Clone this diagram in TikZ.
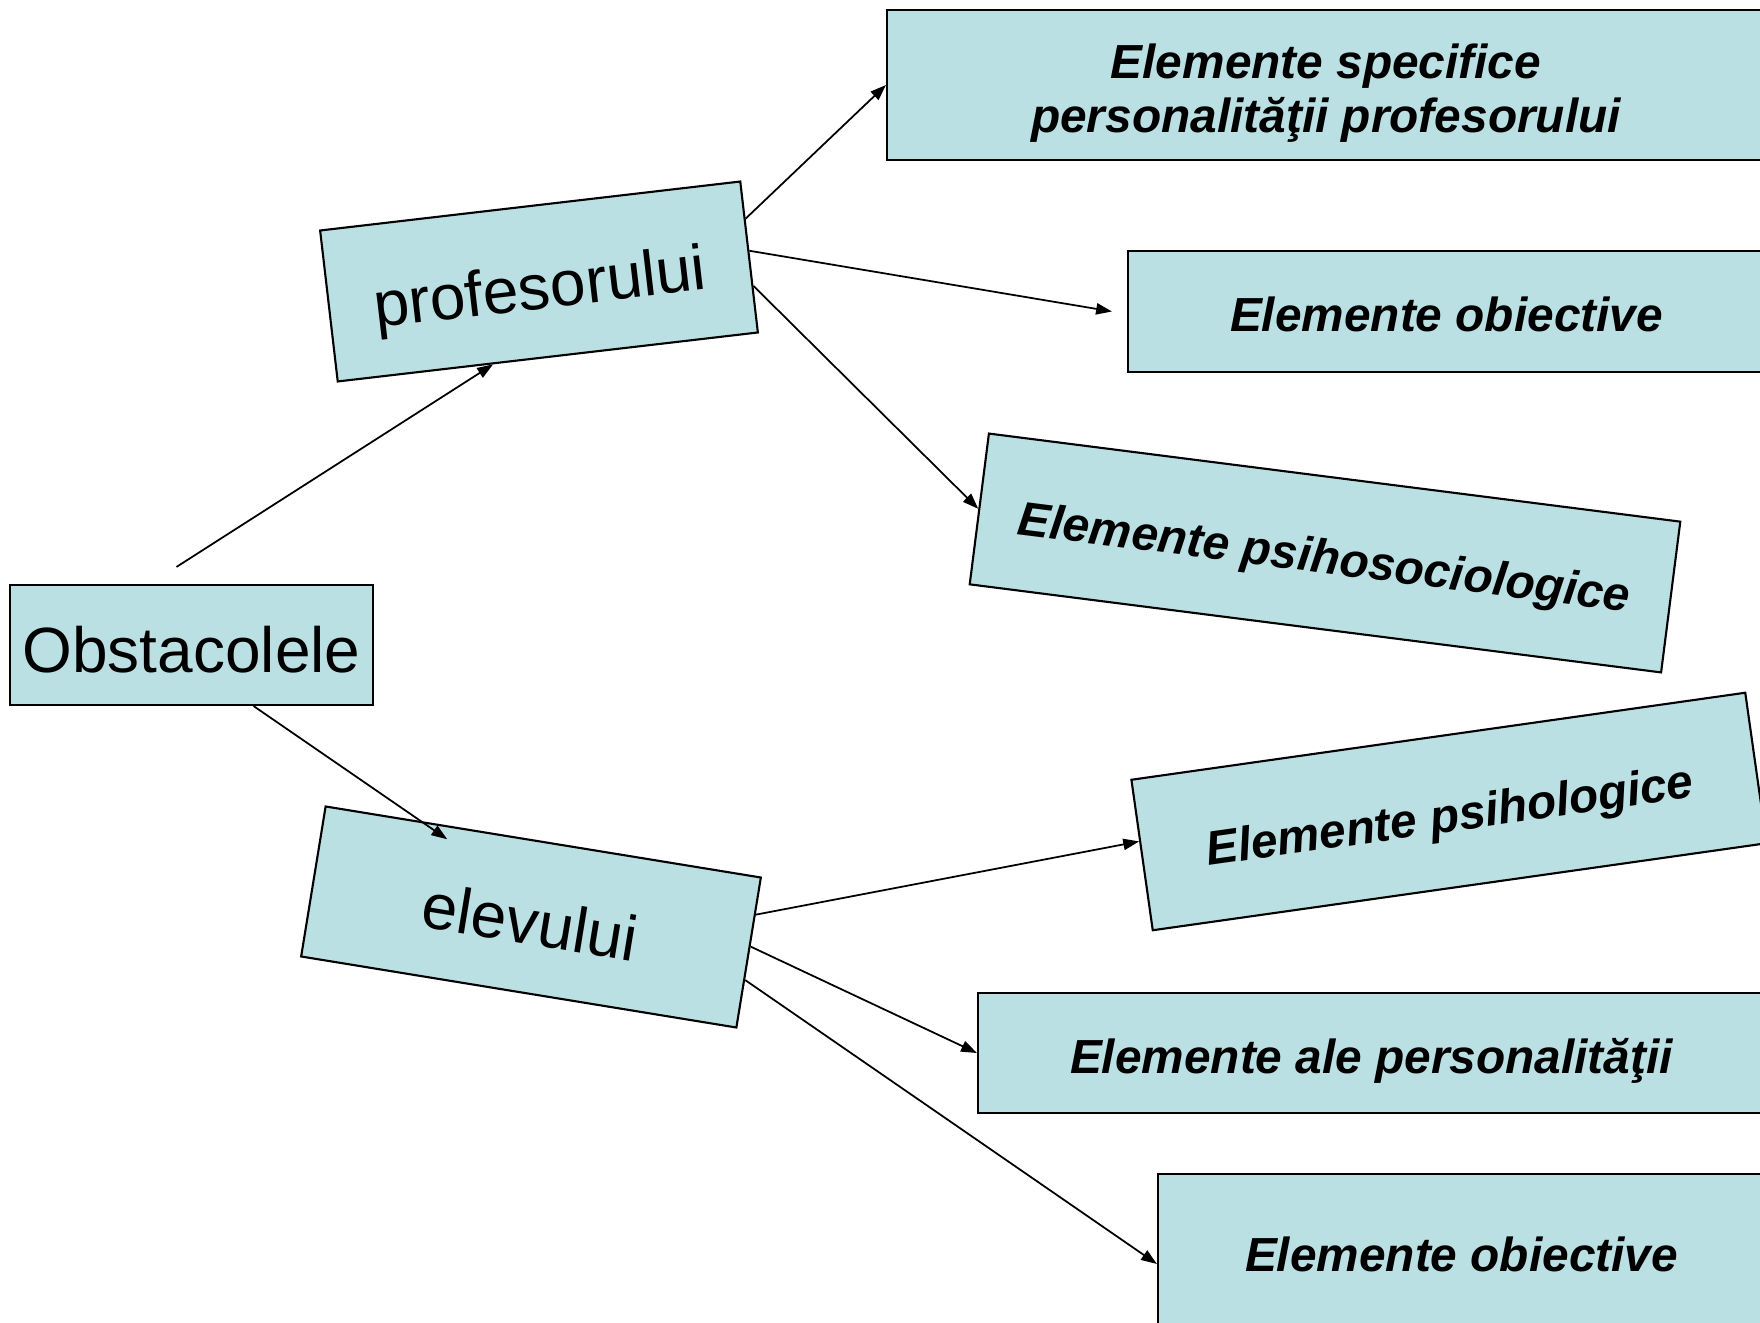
\documentclass[tikz,border=0pt]{standalone}
\usepackage{fontspec}
\setmainfont{Liberation Sans}
\usepackage{xcolor}
\usetikzlibrary{arrows.meta,calc}

\definecolor{cutie}{RGB}{187,224,227}

\begin{document}
\begin{tikzpicture}
    [box/.style = {rectangle, draw=black, fill=cutie, line width=0.6pt},
     mare/.style = {box, font=\fontsize{18.2}{21}\selectfont,
                    text height=17.3pt, text depth=1.8pt},
     elemtext/.style = {box, font=\fontsize{13.6}{15.6}\selectfont\bfseries\itshape},
     elem/.style = {elemtext, text height=12.9pt, text depth=1.4pt},
     sageata/.style = {-{Triangle[length=4.5pt,width=3.2pt]}, line width=0.5pt}]
    \useasboundingbox (0,0) rectangle (17.6,-13.23);
    \clip (0,0) rectangle (17.6,-13.23);
    % Nodul central
    \node[mare, minimum width=3.63cm, minimum height=1.2cm] (obst) at (1.915,-6.45) {Obstacolele};
    % Cele doua ramuri
    \node[mare, rotate=6.65, minimum width=4.23cm, minimum height=1.52cm] (prof) at (5.39,-2.815) {profesorului};
    \node[mare, rotate=-9.27, minimum width=4.41cm, minimum height=1.52cm] (elev) at (5.31,-9.17) {elevului};
    % Elementele profesorului
    \node[elemtext, align=center, minimum width=8.78cm, minimum height=1.5cm] (spec) at (13.26,-0.85) {\rule{0pt}{14.5pt}Elemente specifice\\personalităţii profesorului};
    \node[elem, minimum width=6.37cm, minimum height=1.21cm] (obiA) at (14.465,-3.115) {Elemente obiective};
    \node[elem, rotate=-7.26, minimum width=6.97cm, minimum height=1.52cm] (psoc) at (13.25,-5.53) {Elemente psihosociologice};
    % Elementele elevului
    \node[elem, rotate=8.07, minimum width=6.2cm, minimum height=1.52cm] (psih) at (14.49,-8.115) {Elemente psihologice};
    \node[elem, minimum width=7.87cm, minimum height=1.2cm] (pers) at (13.715,-10.53) {Elemente ale personalităţii};
    \node[elem, minimum width=6.07cm, minimum height=1.54cm] (obiB) at (14.615,-12.51) {Elemente obiective};
    % Sageti din nodul central
    \draw[sageata] ($(obst.north)+(-0.15,0.17)$) -- ($(prof.south west)!0.37!(prof.south east)$);
    \draw[sageata] ($(obst.south west)!0.67!(obst.south east)$) -- ($(elev.north west)!0.28!(elev.north east)+(0,-0.14)$);
    % Sageti profesorului
    \draw[sageata] ($(prof.north east)!0.25!(prof.south east)$) -- (spec.west);
    \draw[sageata] ($(prof.north east)!0.46!(prof.south east)$) -- ($(obiA.west)+(-0.15,0)$);
    \draw[sageata] ($(prof.north east)!0.69!(prof.south east)$) -- (psoc.west);
    % Sageti elevului
    \draw[sageata] ($(elev.north east)!0.25!(elev.south east)$) -- ($(psih.north west)!0.41!(psih.south west)$);
    \draw[sageata] ($(elev.north east)!0.46!(elev.south east)$) -- (pers.west);
    \draw[sageata] ($(elev.north east)!0.68!(elev.south east)$) -- ($(obiB.west)+(0,-0.13)$);
\end{tikzpicture}
\end{document}
